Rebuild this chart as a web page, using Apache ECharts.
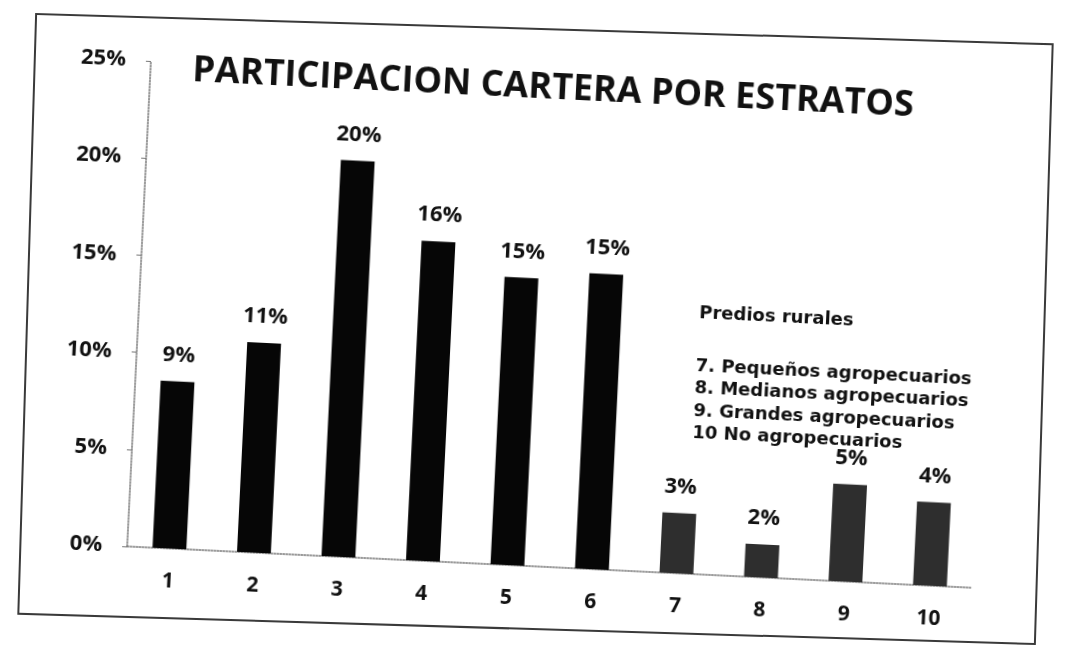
<!DOCTYPE html>
<html>
<head>
<meta charset="utf-8">
<title>Participacion cartera por estratos</title>
<script src="https://cdn.jsdelivr.net/npm/echarts@6/dist/echarts.min.js"></script>
<style>
  html, body {
    margin: 0;
    padding: 0;
    width: 1066px;
    height: 669px;
    overflow: hidden;
    background: #fff;
  }
  /* marco del documento escaneado, un poco torcido */
  .marco {
    position: absolute;
    left: 26px;
    top: 28px;
    width: 1015px;
    height: 598px;
    border: 2px solid #3a3a3a;
    transform: rotate(1.7deg);
  }
  #main {
    position: absolute;
    left: 0;
    top: 0;
    width: 1066px;
    height: 669px;
    transform: rotate(2.8deg);
    transform-origin: 533px 334.5px;
  }
</style>
</head>
<body>
<div class="marco"></div>
<div id="main"></div>

<script>
// estratos 1..10
var estratos = ['1', '2', '3', '4', '5', '6', '7', '8', '9', '10'];
// participacion (%)
var participacion = [8.6, 10.8, 20.4, 16.45, 14.8, 15.2, 3.1, 1.7, 5.0, 4.3];
var ticksY = [0, 5, 10, 15, 20, 25];

var titulo = 'PARTICIPACION CARTERA POR ESTRATOS';
var notaTitulo = 'Predios rurales';
var notaLineas = [
  '7. Pequeños agropecuarios',
  '8. Medianos agropecuarios',
  '9. Grandes agropecuarios',
  '10 No agropecuarios'
];

var myChart = echarts.init(document.getElementById('main'));

myChart.setOption({
  animation: false,
  title: {
    text: titulo,
    left: 180,
    top: 70,
    padding: 0,
    textStyle: {
      fontFamily: 'Open Sans',
      fontWeight: 'bold',
      fontSize: 36,
      color: '#111'
    }
  },
  grid: {
    left: 138,
    right: 82,
    top: 80,
    bottom: 103
  },
  xAxis: {
    type: 'category',
    data: estratos,
    axisLine: {
      lineStyle: {
        color: '#777',
        type: 'dotted',
        width: 1.5
      }
    },
    axisTick: { show: false },
    axisLabel: {
      margin: 23,
      color: '#111',
      fontFamily: 'Open Sans',
      fontWeight: 'bold',
      fontSize: 21
    }
  },
  yAxis: {
    type: 'value',
    min: ticksY[0],
    max: ticksY[ticksY.length - 1],
    interval: 5,
    splitLine: { show: false },
    axisLine: {
      show: true,
      lineStyle: {
        color: '#777',
        type: 'dotted',
        width: 1.5
      }
    },
    axisTick: {
      show: true,
      length: 5,
      lineStyle: { color: '#777' }
    },
    axisLabel: {
      margin: 25,
      color: '#111',
      fontFamily: 'Open Sans',
      fontWeight: 'bold',
      fontSize: 22,
      formatter: '{value}%'
    }
  },
  series: [{
    type: 'bar',
    barWidth: '40%',
    data: participacion.map(function (v, i) {
      return {
        value: v,
        itemStyle: { color: i < 6 ? '#060606' : '#2e2e2e' }
      };
    }),
    label: {
      show: true,
      position: 'top',
      distance: 15,
      color: '#111',
      fontFamily: 'Open Sans',
      fontWeight: 'bold',
      fontSize: 22,
      formatter: function (p) {
        return Math.round(p.value) + '%';
      }
    }
  }],
  graphic: [{
    type: 'text',
    left: 698,
    top: 296,
    style: {
      text: notaTitulo,
      fill: '#111',
      font: 'bold 18px "DejaVu Sans"'
    }
  }, {
    type: 'text',
    left: 697,
    top: 347,
    style: {
      text: notaLineas.join('\n'),
      fill: '#111',
      font: 'bold 18px "DejaVu Sans"',
      lineHeight: 22.5
    }
  }]
});

window.addEventListener('resize', function () {
  myChart.resize();
});
</script>
</body>
</html>
